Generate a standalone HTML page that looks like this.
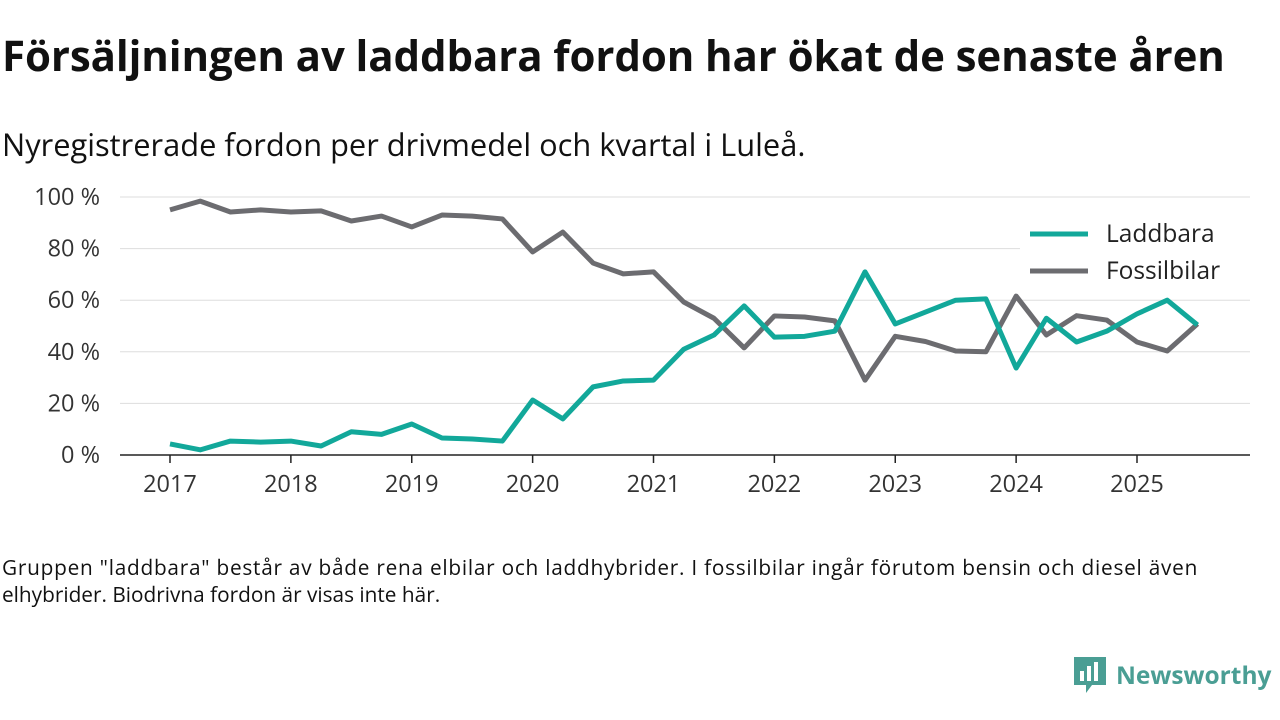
<!DOCTYPE html>
<html><head><meta charset="utf-8"><style>
body{margin:0;width:1280px;height:720px;background:#fff;font-family:"Open Sans","Liberation Sans",sans-serif;color:#111;position:relative;overflow:hidden}
#title{position:absolute;left:2px;top:27px;font-size:42px;font-weight:bold;margin:0;letter-spacing:-0.1px;white-space:nowrap}
#sub{position:absolute;left:2px;top:124px;font-size:30.8px;white-space:nowrap}
#foot{position:absolute;left:2px;top:555px;font-size:20.8px;line-height:27px;width:1260px;white-space:nowrap}
#logo{position:absolute;left:1072px;top:655px;display:flex;align-items:center}
</style></head><body>
<h1 id="title">Försäljningen av laddbara fordon har ökat de senaste åren</h1>
<div id="sub">Nyregistrerade fordon per drivmedel och kvartal i Luleå.</div>
<svg id="chart" width="1280" height="720" style="position:absolute;left:0;top:0"></svg>
<div id="foot"><span style="letter-spacing:0.75px">Gruppen "laddbara" består av både rena elbilar och laddhybrider. I fossilbilar ingår förutom bensin och diesel även</span><br>elhybrider. Biodrivna fordon är visas inte här.</div>
<div id="logo">
<svg width="36" height="40" viewBox="0 0 36 40"><path d="M2 2h32v28H20l-6 8v-8H2z" fill="#4a9e94"/><rect x="8" y="16" width="4" height="10" fill="#fff"/><rect x="15" y="11" width="4" height="15" fill="#fff"/><rect x="22" y="7" width="4" height="19" fill="#fff"/></svg>
<span style="font-size:24.5px;font-weight:bold;color:#4a9e94;margin-left:8px">Newsworthy</span></div>
<script>
const years=["2017","2018","2019","2020","2021","2022","2023","2024","2025"];
const yTicks=[0,20,40,60,80,100];
const laddbara=[4.3,2,5.4,5,5.4,3.5,9,8,12,6.6,6.2,5.4,21.3,14,26.4,28.7,29,41,46.5,57.8,45.7,46,48,71,50.8,55.4,60,60.5,33.7,53,43.8,48,54.7,60,50.4];
const fossil=[95,98.4,94.2,95,94.2,94.6,90.7,92.6,88.4,93,92.6,91.5,78.7,86.4,74.4,70.2,71,59.3,53,41.5,53.9,53.5,52,29,46,44,40.3,40,61.6,46.5,54,52.3,43.8,40.3,50.8];
const svg=document.getElementById('chart');const NS="http://www.w3.org/2000/svg";
const x=i=>170+i*(1137-170)/32; const y=v=>455-v*2.58;
function mk(t,a){const e=document.createElementNS(NS,t);for(const k in a)e.setAttribute(k,a[k]);svg.appendChild(e);return e;}
yTicks.forEach(v=>{const l=mk('line',{x1:120,x2:1250,y1:y(v),y2:y(v),stroke:v?'#ddd':'#222','stroke-width':v?1:1.5});


const t=mk('text',{x:100,y:y(v)+8,'text-anchor':'end','font-size':23.5,fill:'#333'});t.textContent=v+' %';

});
years.forEach((yr,k)=>{const xx=x(k*4);const tk=mk('line',{x1:xx,x2:xx,y1:455,y2:463,stroke:'#222','stroke-width':1.5});


const t=mk('text',{x:xx,y:492,'text-anchor':'middle','font-size':23.5,fill:'#333'});t.textContent=yr;

});
function line(d,c,n){const p=mk('polyline',{points:d.map((v,i)=>x(i)+','+y(v)).join(' '),fill:'none',stroke:c,'stroke-width':5,'stroke-linejoin':'round'});

}
line(fossil,'#6c6c70','fossilbilar-line');
line(laddbara,'#12a89a','laddbara-line');
mk('rect',{x:1020,y:214,width:230,height:80,fill:'#fff'});
[['Laddbara','#12a89a',234],['Fossilbilar','#6c6c70',271]].forEach(([n,c,yy])=>{
const l=mk('line',{x1:1030,x2:1088,y1:yy,y2:yy,stroke:c,'stroke-width':5});


const t=mk('text',{x:1106,y:yy+8,'font-size':24.5,fill:'#222'});t.textContent=n;

});
</script>
</body></html>
